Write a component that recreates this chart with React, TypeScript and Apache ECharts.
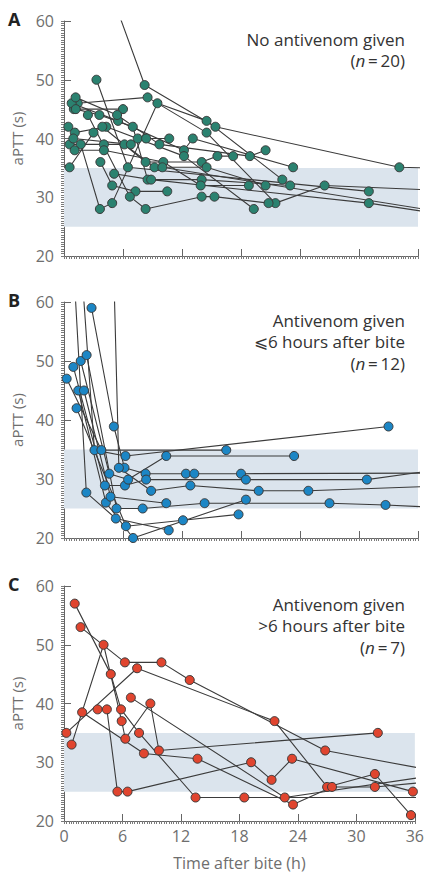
import React, { useEffect, useRef } from "react";
import * as echarts from "echarts";

const Y_TICKS = [20, 30, 40, 50, 60];
const X_TICKS = [0, 6, 12, 18, 24, 30, 36];
const REF_BAND = [25, 35];

// Panel A: no antivenom (each entry is one patient: [hours, aPTT])
const PANEL_A: number[][][] = [
  [[5.4, 62], [8.2, 49.1], [15.4, 42], [34.1, 35.1], [36.5, 35]],
  [[1.4, 46], [8.5, 47], [14.5, 41], [21.5, 29], [26.5, 32], [36.5, 31.3]],
  [[1.7, 39], [3.65, 28], [4.9, 29], [9.5, 46], [14.5, 43], [22.2, 33]],
  [[1.0, 45], [6.0, 45]],
  [[0.78, 46], [5.5, 43], [12.2, 38], [13.1, 40], [23.3, 35.1]],
  [[1.18, 47], [5.4, 44], [9.7, 39], [18.9, 37], [20.5, 38]],
  [[1.2, 45], [3.6, 44], [7.0, 42], [8.5, 33], [14.0, 33], [23.0, 32]],
  [[0.44, 42], [1.1, 41], [4.3, 42], [12.2, 37], [19.3, 28]],
  [[3.3, 50], [6.5, 35.1], [31.0, 31]],
  [[0.57, 35.1], [3.0, 41], [3.9, 42], [8.3, 36], [14.0, 36], [15.6, 37], [17.2, 37]],
  [[0.57, 39], [4.06, 39], [6.15, 39], [9.2, 35.1], [14.5, 35.1], [20.5, 32]],
  [[0.95, 40], [6.8, 39], [7.5, 40], [8.35, 40], [10.7, 40]],
  [[1.08, 38], [4.06, 38], [10.1, 36], [13.9, 32], [18.8, 32]],
  [[3.7, 36], [4.9, 32], [7.27, 31], [10.5, 31]],
  [[5.1, 34], [8.86, 33], [31.0, 29], [36.5, 27.6]],
  [[2.43, 44], [6.7, 30.1], [8.3, 28], [14.0, 30.1], [15.3, 30.1], [20.8, 29]],
  [[10.0, 35.1], [36.5, 28]],
];

// Panel B: antivenom given <= 6 h after bite
const PANEL_B: number[][][] = [
  [[1.05, 64], [2.27, 27.7], [5.27, 23.3], [10.65, 21.3]],
  [[1.86, 64], [3.1, 34.9], [6.25, 33.9], [33.0, 38.9]],
  [[2.8, 59], [5.07, 38.9], [6.15, 31.9], [8.3, 30.9], [12.4, 30.9], [13.25, 30.9], [18.0, 30.9], [36.5, 31]],
  [[5.08, 64], [5.58, 31.9], [8.86, 28], [12.85, 28.9], [19.8, 28], [24.85, 28], [36.5, 28.7]],
  [[0.27, 47], [3.8, 34.9], [16.5, 34.9]],
  [[0.95, 49], [4.16, 28.9], [6.2, 28.9], [8.35, 29.9], [18.5, 29.9], [30.8, 29.9], [36.5, 31.2]],
  [[1.7, 50], [4.6, 30.9], [6.52, 29.9], [10.4, 33.9], [23.4, 33.9]],
  [[2.3, 51], [5.34, 25], [8.0, 25], [14.3, 25.9], [27.0, 25.9], [32.7, 25.6], [36.5, 25.3]],
  [[1.45, 45], [4.26, 26], [7.03, 20], [18.5, 26.5]],
  [[2.03, 45], [4.73, 27], [10.4, 25.9]],
  [[1.28, 42], [6.3, 22], [12.1, 23], [17.75, 24]],
];

// Panel C: antivenom given > 6 h after bite
const PANEL_C: number[][][] = [
  [[0.78, 33], [4.06, 50], [5.92, 37], [6.29, 34], [8.86, 40], [9.74, 32], [32.2, 35]],
  [[1.7, 53], [6.25, 47], [10.0, 47], [12.9, 44], [26.8, 32], [36.5, 29]],
  [[1.1, 57], [4.8, 45], [5.85, 39], [7.7, 35], [13.5, 24], [18.5, 24], [36.5, 24]],
  [[0.24, 35], [7.5, 46], [21.6, 37], [27.0, 25.8], [31.9, 28], [35.6, 21]],
  [[3.45, 39], [4.4, 39], [5.48, 25], [6.52, 25], [19.2, 30], [21.3, 27], [23.4, 30.6], [35.8, 25]],
  [[1.86, 38.5], [8.2, 31.5], [13.7, 30.6], [23.5, 22.8], [27.5, 25.8], [31.9, 25.8], [36.5, 26.5]],
  [[6.86, 41], [22.65, 24], [36.5, 27.4]],
];

const PANELS = [
  { letter: "A", color: "#2b8270", data: PANEL_A, lines: ["No antivenom given"], n: "20", top: 21, height: 235 },
  { letter: "B", color: "#1c86c5", data: PANEL_B, lines: ["Antivenom given", "\u2A7D6 hours after bite"], n: "12", top: 302, height: 236 },
  { letter: "C", color: "#e0452f", data: PANEL_C, lines: ["Antivenom given", ">6 hours after bite"], n: "7", top: 586, height: 235 },
];

const FONT = "'Open Sans', 'Noto Sans', sans-serif";
const AXIS_COLOR = "#666";
const LABEL_COLOR = "#6e6e6e";

export default function App() {
  const ref = useRef<HTMLDivElement>(null);
  useEffect(() => {
    document.body.style.margin = "0";
    if (!ref.current) return;
    const chart = echarts.init(ref.current, null, { renderer: "svg" });

    const grid: any[] = [];
    const xAxis: any[] = [];
    const yAxis: any[] = [];
    const series: any[] = [];
    const graphic: any[] = [];

    PANELS.forEach((p) => {
      grid.push({ left: 64, right: 9, top: p.top, height: p.height });
    });
    PANELS.forEach((p, i) => {
      xAxis.push({
        type: "value", gridIndex: i, position: "bottom",
        min: X_TICKS[0], max: X_TICKS[X_TICKS.length - 1], interval: X_TICKS[1] - X_TICKS[0],
        axisLine: { show: true, lineStyle: { color: AXIS_COLOR, width: 1 } },
        axisTick: { show: true, inside: true, length: 7, lineStyle: { color: AXIS_COLOR } },
        axisLabel: { show: i === 2, color: LABEL_COLOR, fontSize: 16, fontFamily: FONT, margin: 7 },
        splitLine: { show: false },
        name: i === 2 ? "Time after bite (h)" : "",
        nameLocation: "middle", nameGap: 34,
        nameTextStyle: { color: LABEL_COLOR, fontSize: 16, fontFamily: FONT },
      });
      yAxis.push({
        type: "value", gridIndex: i, position: "left",
        min: Y_TICKS[0], max: Y_TICKS[Y_TICKS.length - 1], interval: Y_TICKS[1] - Y_TICKS[0],
        axisLine: { show: true, lineStyle: { color: AXIS_COLOR, width: 1 } },
        axisTick: { show: true, inside: true, length: 7, lineStyle: { color: AXIS_COLOR } },
        axisLabel: { color: LABEL_COLOR, fontSize: 16, fontFamily: FONT, margin: 10 },
        splitLine: { show: false },
        name: "aPTT (s)", nameLocation: "middle", nameGap: 36,
        nameTextStyle: { color: LABEL_COLOR, fontSize: 15, fontFamily: FONT },
      });
    });
    PANELS.forEach((p, i) => {
      xAxis.push({
        type: "value", gridIndex: i, position: "bottom",
        min: 0, max: 36, interval: 0.25,
        axisLine: { show: false }, axisLabel: { show: false }, splitLine: { show: false },
        axisTick: { show: true, inside: false, length: 3, lineStyle: { color: "#7a7a7a" } },
      });
      yAxis.push({
        type: "value", gridIndex: i, position: "left",
        min: 20, max: 60, interval: 0.4,
        axisLine: { show: false }, axisLabel: { show: false }, splitLine: { show: false },
        axisTick: { show: true, inside: false, length: 3, lineStyle: { color: "#7a7a7a" } },
      });
    });

    PANELS.forEach((p, i) => {
      series.push({
        type: "line", xAxisIndex: i, yAxisIndex: i, data: [], z: 1, silent: true,
        markArea: {
          silent: true,
          itemStyle: { color: "#dbe4ed" },
          data: [[{ xAxis: 0, yAxis: REF_BAND[0] }, { xAxis: 36, yAxis: REF_BAND[1] }]],
        },
      });
      p.data.forEach((path) => {
        series.push({
          type: "line", xAxisIndex: i, yAxisIndex: i, data: path, z: 2,
          symbol: "none", showSymbol: false, clip: true, silent: true,
          lineStyle: { color: "#3b3b3b", width: 1.1 },
        });
      });
      const pts: number[][] = [];
      p.data.forEach((path) =>
        path.forEach((pt) => {
          if (pt[0] >= 0 && pt[0] <= 36 && pt[1] >= 20 && pt[1] <= 60) pts.push(pt);
        })
      );
      series.push({
        type: "scatter", xAxisIndex: i, yAxisIndex: i, data: pts, z: 3, silent: true,
        symbolSize: 9,
        itemStyle: { color: p.color, borderColor: "#3a3a3a", borderWidth: 1, opacity: 1 },
      });

      graphic.push({
        type: "text", left: 8, top: p.top - 11,
        style: { text: p.letter, fontSize: 18, fontWeight: "bold", fill: "#222", fontFamily: FONT },
      });
      const lineH = 21.5;
      const startY = p.top + 18;
      p.lines.forEach((t, k) => {
        graphic.push({
          type: "text", x: 405, y: startY + k * lineH,
          style: { text: t, fontSize: 17, fill: "#333", fontFamily: FONT, align: "right", verticalAlign: "middle" },
        });
      });
      graphic.push({
        type: "text", x: 405, y: startY + p.lines.length * lineH,
        style: {
          text: "({i|n}\u2009=\u2009" + p.n + ")",
          fontSize: 17, fill: "#333", fontFamily: FONT, align: "right", verticalAlign: "middle",
          rich: { i: { fontStyle: "italic", fontSize: 17, fill: "#333", fontFamily: FONT } },
        },
      });
    });

    chart.setOption({ animation: false, grid, xAxis, yAxis, series, graphic });
    return () => chart.dispose();
  }, []);
  return <div ref={ref} style={{ position: "absolute", left: 0, top: 0, width: 427, height: 877 }} />;
}
